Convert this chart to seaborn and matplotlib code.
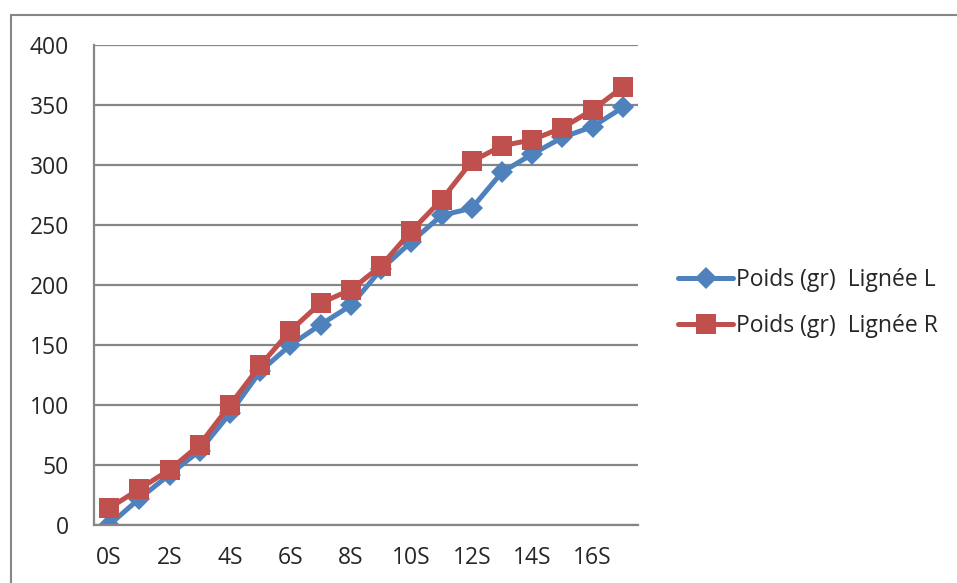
import matplotlib
matplotlib.use("Agg")
import matplotlib.pyplot as plt
import matplotlib.patches as mpatches
import seaborn as sns
import pandas as pd
import numpy as np

categories = [f"{i}S" for i in range(18)]
poids_L = [0, 22, 42, 62, 93, 128, 150, 167, 183, 213, 236, 258, 264, 294, 309, 323, 332, 348]
poids_R = [14, 30, 46, 67, 100, 133, 162, 185, 196, 216, 245, 271, 303, 316, 321, 331, 346, 365]
label_L = "Poids (gr)  Lignée L"
label_R = "Poids (gr)  Lignée R"
y_ticks = [0, 50, 100, 150, 200, 250, 300, 350, 400]

df = pd.DataFrame({
    "cat": categories * 2,
    "val": poids_L + poids_R,
    "serie": [label_L] * len(categories) + [label_R] * len(categories),
})

sns.set_style("white")
plt.rcParams['font.family'] = ['Open Sans', 'DejaVu Sans']

FS = 16.5
fig = plt.figure(figsize=(9.57, 5.83), dpi=100)
ax = fig.add_axes([94/957, 58/583, (638-94)/957, (525-45)/583])

palette = {label_L: "#4F81BD", label_R: "#C0504D"}
sns.lineplot(data=df, x="cat", y="val", hue="serie", style="serie",
             markers={label_L: "D", label_R: "s"}, dashes=False,
             palette=palette, linewidth=3.6, markersize=11,
             markeredgewidth=0, ax=ax, legend=False, sort=False)
for line in ax.get_lines():
    if line.get_marker() == "D":
        line.set_markersize(11)
    else:
        line.set_markersize(14)

ax.set_xlim(-0.5, 17.5)
ax.set_ylim(0, 400)
ax.set_yticks(y_ticks)
ax.set_yticklabels([str(v) for v in y_ticks], fontsize=FS)
ax.set_xticks(range(0, 18, 2))
ax.set_xticklabels([categories[i] for i in range(0, 18, 2)], fontsize=FS)
ax.set_xticks(np.arange(-0.5, 18, 1), minor=True)
ax.tick_params(axis="x", which="major", length=0, pad=15)
ax.tick_params(axis="x", which="minor", length=6, width=1.5, color="#868686")
ax.tick_params(axis="y", length=6, width=1.5, color="#868686", pad=12)
ax.set_xlabel("")
ax.set_ylabel("")
ax.grid(axis="y", color="#868686", linewidth=1.6)
ax.set_axisbelow(True)
for s in ["top", "right"]:
    ax.spines[s].set_visible(False)
for s in ["left", "bottom"]:
    ax.spines[s].set_color("#868686")
    ax.spines[s].set_linewidth(1.6)

handles = [
    plt.Line2D([], [], color="#4F81BD", marker="D", linewidth=3.6, markersize=11, markeredgewidth=0),
    plt.Line2D([], [], color="#C0504D", marker="s", linewidth=3.6, markersize=14, markeredgewidth=0),
]
fig.legend(handles, [label_L, label_R], loc="center left",
           bbox_to_anchor=(678/957, 1 - 303/583), frameon=False,
           fontsize=FS, handlelength=2.4, handletextpad=0.15,
           labelspacing=0.95, borderpad=0, borderaxespad=0)

rect = mpatches.Rectangle((11/957, -0.1), 1.2, 1 - 15/583 + 0.1,
                          transform=fig.transFigure, fill=False,
                          edgecolor="#868686", linewidth=1.5)
fig.patches.append(rect)

fig.savefig("out.png", dpi=100)
